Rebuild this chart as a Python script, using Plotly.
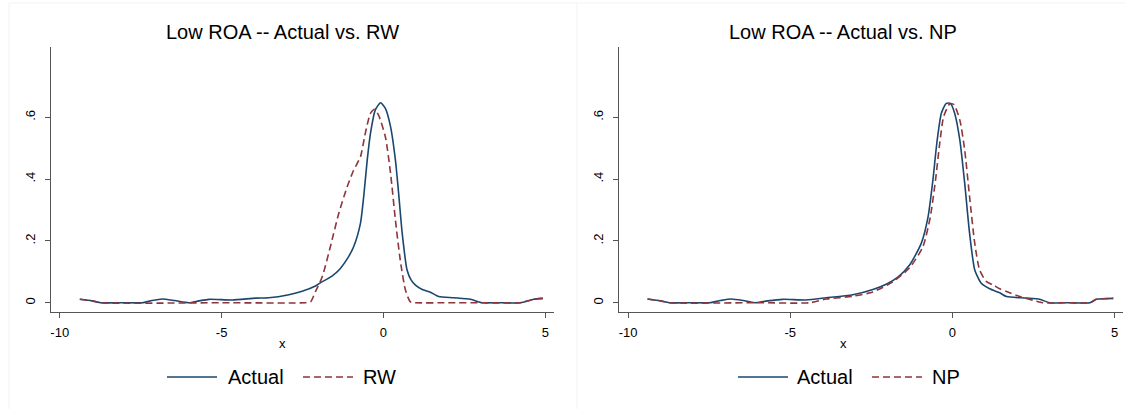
import plotly.graph_objects as go

# ---------------- data ----------------
left_actual_x = [-9.38, -9.0, -8.73, -8.0, -7.45, -7.15, -6.83, -6.45, -6.01, -5.7, -5.39, -4.67, -3.95, -3.54,
                 -2.92, -2.51, -2.10, -1.94, -1.6, -1.33, -1.1, -0.92, -0.71, -0.61, -0.50, -0.40, -0.25, -0.09,
                 0.06, 0.22, 0.37, 0.47, 0.58, 0.73, 0.85, 0.99, 1.2, 1.45, 1.71, 2.17, 2.69, 3.05, 3.5, 4.23,
                 4.64, 4.93]
left_actual_y = [0.011, 0.006, 0.0, 0.0, 0.0, 0.007, 0.012, 0.007, 0.0, 0.006, 0.011, 0.009, 0.015, 0.016,
                 0.026, 0.037, 0.054, 0.065, 0.085, 0.111, 0.145, 0.181, 0.257, 0.343, 0.462, 0.548, 0.624, 0.647,
                 0.629, 0.570, 0.462, 0.354, 0.225, 0.106, 0.075, 0.057, 0.043, 0.034, 0.020, 0.016, 0.011, 0.0,
                 0.0, 0.0, 0.011, 0.014]

left_rw_x = [-9.38, -9.0, -8.73, -5.0, -2.41, -2.25, -2.10, -1.89, -1.64, -1.38, -1.12, -0.92, -0.71, -0.56,
             -0.40, -0.28, -0.15, 0.06, 0.22, 0.37, 0.52, 0.68, 0.83, 0.95, 2.0, 3.05, 4.23, 4.64, 4.93]
left_rw_y = [0.011, 0.006, 0.0, 0.0, 0.0, 0.003, 0.036, 0.084, 0.181, 0.289, 0.375, 0.429, 0.472, 0.548,
             0.613, 0.626, 0.607, 0.537, 0.419, 0.268, 0.138, 0.041, 0.003, 0.0, 0.0, 0.0, 0.0, 0.011, 0.014]

right_actual_x = [-9.40, -9.0, -8.73, -8.0, -7.49, -7.15, -6.82, -6.45, -6.10, -5.7, -5.23, -4.51, -3.89, -3.07,
                  -2.45, -2.04, -1.68, -1.32, -0.96, -0.75, -0.60, -0.48, -0.34, -0.19, -0.06, 0.07, 0.23, 0.38,
                  0.53, 0.69, 0.89, 1.15, 1.46, 1.67, 2.28, 2.69, 3.0, 3.6, 4.24, 4.44, 4.96]
right_actual_y = [0.012, 0.006, 0.0, 0.0, 0.0, 0.007, 0.012, 0.007, 0.0, 0.006, 0.011, 0.009, 0.016, 0.026,
                  0.043, 0.060, 0.083, 0.122, 0.192, 0.278, 0.397, 0.516, 0.613, 0.645, 0.645, 0.613, 0.526, 0.386,
                  0.225, 0.106, 0.063, 0.045, 0.032, 0.020, 0.015, 0.011, 0.0, 0.0, 0.0, 0.011, 0.014]

right_np_x = [-9.40, -9.0, -8.73, -6.0, -4.40, -3.89, -3.07, -2.45, -1.83, -1.32, -0.91, -0.68, -0.52, -0.39,
              -0.27, -0.08, 0.05, 0.23, 0.38, 0.53, 0.69, 0.84, 1.05, 1.25, 1.46, 1.67, 2.08, 2.49, 2.78, 3.6,
              4.24, 4.44, 4.96]
right_np_y = [0.012, 0.006, 0.0, 0.0, 0.0, 0.012, 0.021, 0.035, 0.068, 0.113, 0.181, 0.278, 0.397, 0.516,
              0.602, 0.644, 0.641, 0.591, 0.494, 0.343, 0.192, 0.106, 0.068, 0.058, 0.045, 0.036, 0.020, 0.008,
              0.0, 0.0, 0.0, 0.011, 0.014]

titles = ["Low ROA -- Actual vs. RW", "Low ROA -- Actual vs. NP"]
series_names = [["Actual", "RW"], ["Actual", "NP"]]
x_ticks = [-10, -5, 0, 5]
x_tick_labels = ["-10", "-5", "0", "5"]
y_ticks = [0, 0.2, 0.4, 0.6]
y_tick_labels = ["0", ".2", ".4", ".6"]

# ---------------- styling ----------------
W, H = 1125, 409
NAVY = "#1a476f"
MAROON = "#90353b"
AXIS_COL = "#555555"
FONT = "Liberation Sans, Arial, sans-serif"
DASH = "7px,4px"

fig = go.Figure()

panels = [
    (left_actual_x, left_actual_y, left_rw_x, left_rw_y, "x", "y"),
    (right_actual_x, right_actual_y, right_np_x, right_np_y, "x2", "y2"),
]
for i, (ax, ay, bx, by, xa, ya) in enumerate(panels):
    fig.add_trace(go.Scatter(x=ax, y=ay, mode="lines", name=series_names[i][0], xaxis=xa, yaxis=ya,
                             line=dict(color=NAVY, width=1.6, shape="spline", smoothing=0.6),
                             showlegend=False))
    fig.add_trace(go.Scatter(x=bx, y=by, mode="lines", name=series_names[i][1], xaxis=xa, yaxis=ya,
                             line=dict(color=MAROON, width=1.6, dash=DASH, shape="spline", smoothing=0.6),
                             showlegend=False))

ydom = [1 - 312 / H, 1 - 47 / H]
xdoms = [[51 / W, 554 / W], [619.3 / W, 1123.3 / W]]

axis_common = dict(showgrid=False, zeroline=False, showline=True, linecolor=AXIS_COL, linewidth=1.3,
                   ticks="outside", ticklen=5, tickcolor=AXIS_COL, tickwidth=1.2,
                   tickfont=dict(family=FONT, size=13, color="#000000"))

for i, (xk, yk) in enumerate([("xaxis", "yaxis"), ("xaxis2", "yaxis2")]):
    fig.layout[xk] = dict(domain=xdoms[i], range=[-10.27, 5.27], tickvals=x_ticks, ticktext=x_tick_labels,
                          anchor="y" if i == 0 else "y2", ticklabelstandoff=3, **axis_common)
    fig.layout[yk] = dict(domain=ydom, range=[-0.030, 0.8275], tickvals=y_ticks, ticktext=y_tick_labels,
                          tickangle=-90, anchor="x" if i == 0 else "x2", ticklabelstandoff=5, **axis_common)

annotations = []
shapes = []
centers = [282, 843]
for i in range(2):
    cx = centers[i]
    annotations.append(dict(text=titles[i], x=cx / W, y=1 - 32 / H, xref="paper", yref="paper",
                            xanchor="center", yanchor="middle", showarrow=False,
                            font=dict(family=FONT, size=20, color="#000000")))
    annotations.append(dict(text="x", x=cx / W, y=1 - 343 / H, xref="paper", yref="paper",
                            xanchor="center", yanchor="middle", showarrow=False,
                            font=dict(family=FONT, size=13, color="#000000")))

# manual legends (positions in pixels)
legend_items = [
    [(167, 217, 226, "Actual", NAVY, "solid"), (303, 353, 361, "RW", MAROON, DASH)],
    [(738, 788, 795, "Actual", NAVY, "solid"), (872, 922, 930, "NP", MAROON, DASH)],
]
ly = 377
for items in legend_items:
    for (x0, x1, tx, label, col, dash) in items:
        shapes.append(dict(type="line", xref="paper", yref="paper", x0=x0 / W, x1=x1 / W,
                           y0=1 - ly / H, y1=1 - ly / H, line=dict(color=col, width=1.6, dash=dash)))
        annotations.append(dict(text=label, x=tx / W, y=1 - ly / H, xref="paper", yref="paper",
                                xanchor="left", yanchor="middle", showarrow=False,
                                font=dict(family=FONT, size=20, color="#000000")))

# faint graph-region borders
BORDER = "#f0f3f5"
for bx in [9, 577]:
    shapes.append(dict(type="line", xref="paper", yref="paper", x0=bx / W, x1=bx / W, y0=0, y1=1 - 3 / H,
                       line=dict(color=BORDER, width=1)))
shapes.append(dict(type="line", xref="paper", yref="paper", x0=9 / W, x1=1, y0=1 - 3 / H, y1=1 - 3 / H,
                   line=dict(color=BORDER, width=1)))

fig.update_layout(width=W, height=H, margin=dict(l=0, r=0, t=0, b=0),
                  paper_bgcolor="white", plot_bgcolor="white",
                  annotations=annotations, shapes=shapes, showlegend=False,
                  font=dict(family=FONT))

fig.write_html("out.html")
